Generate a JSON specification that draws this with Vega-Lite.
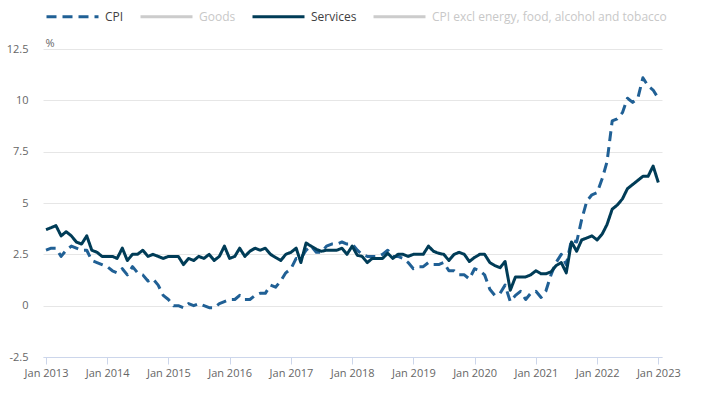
{
  "$schema": "https://vega.github.io/schema/vega-lite/v6.json",
  "width": 619,
  "height": 308,
  "autosize": "none",
  "padding": {"left": 43, "top": 49, "right": 55, "bottom": 39},
  "background": "white",
  "config": {
    "view": {"stroke": null},
    "font": "Open Sans"
  },
  "data": {
    "values": [
      {"date": "2013-01-01", "CPI": 2.7, "Services": 3.7},
      {"date": "2013-02-01", "CPI": 2.8, "Services": 3.8},
      {"date": "2013-03-01", "CPI": 2.8, "Services": 3.9},
      {"date": "2013-04-01", "CPI": 2.4, "Services": 3.4},
      {"date": "2013-05-01", "CPI": 2.7, "Services": 3.6},
      {"date": "2013-06-01", "CPI": 2.9, "Services": 3.4},
      {"date": "2013-07-01", "CPI": 2.8, "Services": 3.1},
      {"date": "2013-08-01", "CPI": 2.7, "Services": 3.0},
      {"date": "2013-09-01", "CPI": 2.7, "Services": 3.4},
      {"date": "2013-10-01", "CPI": 2.2, "Services": 2.7},
      {"date": "2013-11-01", "CPI": 2.1, "Services": 2.6},
      {"date": "2013-12-01", "CPI": 2.0, "Services": 2.4},
      {"date": "2014-01-01", "CPI": 1.9, "Services": 2.4},
      {"date": "2014-02-01", "CPI": 1.7, "Services": 2.4},
      {"date": "2014-03-01", "CPI": 1.6, "Services": 2.3},
      {"date": "2014-04-01", "CPI": 1.8, "Services": 2.8},
      {"date": "2014-05-01", "CPI": 1.5, "Services": 2.2},
      {"date": "2014-06-01", "CPI": 1.9, "Services": 2.5},
      {"date": "2014-07-01", "CPI": 1.6, "Services": 2.5},
      {"date": "2014-08-01", "CPI": 1.5, "Services": 2.7},
      {"date": "2014-09-01", "CPI": 1.2, "Services": 2.4},
      {"date": "2014-10-01", "CPI": 1.3, "Services": 2.5},
      {"date": "2014-11-01", "CPI": 1.0, "Services": 2.4},
      {"date": "2014-12-01", "CPI": 0.5, "Services": 2.3},
      {"date": "2015-01-01", "CPI": 0.3, "Services": 2.4},
      {"date": "2015-02-01", "CPI": 0.0, "Services": 2.4},
      {"date": "2015-03-01", "CPI": 0.0, "Services": 2.4},
      {"date": "2015-04-01", "CPI": -0.1, "Services": 2.0},
      {"date": "2015-05-01", "CPI": 0.1, "Services": 2.3},
      {"date": "2015-06-01", "CPI": 0.0, "Services": 2.2},
      {"date": "2015-07-01", "CPI": 0.1, "Services": 2.4},
      {"date": "2015-08-01", "CPI": 0.0, "Services": 2.3},
      {"date": "2015-09-01", "CPI": -0.1, "Services": 2.5},
      {"date": "2015-10-01", "CPI": -0.1, "Services": 2.2},
      {"date": "2015-11-01", "CPI": 0.1, "Services": 2.4},
      {"date": "2015-12-01", "CPI": 0.2, "Services": 2.9},
      {"date": "2016-01-01", "CPI": 0.3, "Services": 2.3},
      {"date": "2016-02-01", "CPI": 0.3, "Services": 2.4},
      {"date": "2016-03-01", "CPI": 0.5, "Services": 2.8},
      {"date": "2016-04-01", "CPI": 0.3, "Services": 2.4},
      {"date": "2016-05-01", "CPI": 0.3, "Services": 2.65},
      {"date": "2016-06-01", "CPI": 0.5, "Services": 2.8},
      {"date": "2016-07-01", "CPI": 0.6, "Services": 2.7},
      {"date": "2016-08-01", "CPI": 0.6, "Services": 2.8},
      {"date": "2016-09-01", "CPI": 1.0, "Services": 2.5},
      {"date": "2016-10-01", "CPI": 0.9, "Services": 2.35},
      {"date": "2016-11-01", "CPI": 1.2, "Services": 2.2},
      {"date": "2016-12-01", "CPI": 1.6, "Services": 2.5},
      {"date": "2017-01-01", "CPI": 1.8, "Services": 2.6},
      {"date": "2017-02-01", "CPI": 2.3, "Services": 2.8},
      {"date": "2017-03-01", "CPI": 2.3, "Services": 2.1},
      {"date": "2017-04-01", "CPI": 2.7, "Services": 3.05},
      {"date": "2017-05-01", "CPI": 2.9, "Services": 2.9},
      {"date": "2017-06-01", "CPI": 2.6, "Services": 2.75},
      {"date": "2017-07-01", "CPI": 2.6, "Services": 2.65},
      {"date": "2017-08-01", "CPI": 2.9, "Services": 2.7},
      {"date": "2017-09-01", "CPI": 3.0, "Services": 2.7},
      {"date": "2017-10-01", "CPI": 3.0, "Services": 2.7},
      {"date": "2017-11-01", "CPI": 3.1, "Services": 2.8},
      {"date": "2017-12-01", "CPI": 3.0, "Services": 2.5},
      {"date": "2018-01-01", "CPI": 3.0, "Services": 2.9},
      {"date": "2018-02-01", "CPI": 2.7, "Services": 2.45},
      {"date": "2018-03-01", "CPI": 2.5, "Services": 2.4},
      {"date": "2018-04-01", "CPI": 2.4, "Services": 2.1},
      {"date": "2018-05-01", "CPI": 2.4, "Services": 2.3},
      {"date": "2018-06-01", "CPI": 2.4, "Services": 2.3},
      {"date": "2018-07-01", "CPI": 2.5, "Services": 2.3},
      {"date": "2018-08-01", "CPI": 2.7, "Services": 2.55},
      {"date": "2018-09-01", "CPI": 2.4, "Services": 2.3},
      {"date": "2018-10-01", "CPI": 2.4, "Services": 2.5},
      {"date": "2018-11-01", "CPI": 2.3, "Services": 2.5},
      {"date": "2018-12-01", "CPI": 2.1, "Services": 2.4},
      {"date": "2019-01-01", "CPI": 1.8, "Services": 2.5},
      {"date": "2019-02-01", "CPI": 1.9, "Services": 2.5},
      {"date": "2019-03-01", "CPI": 1.9, "Services": 2.5},
      {"date": "2019-04-01", "CPI": 2.1, "Services": 2.9},
      {"date": "2019-05-01", "CPI": 2.0, "Services": 2.65},
      {"date": "2019-06-01", "CPI": 2.0, "Services": 2.55},
      {"date": "2019-07-01", "CPI": 2.1, "Services": 2.5},
      {"date": "2019-08-01", "CPI": 1.7, "Services": 2.2},
      {"date": "2019-09-01", "CPI": 1.7, "Services": 2.5},
      {"date": "2019-10-01", "CPI": 1.5, "Services": 2.6},
      {"date": "2019-11-01", "CPI": 1.5, "Services": 2.5},
      {"date": "2019-12-01", "CPI": 1.3, "Services": 2.15},
      {"date": "2020-01-01", "CPI": 1.8, "Services": 2.35},
      {"date": "2020-02-01", "CPI": 1.7, "Services": 2.5},
      {"date": "2020-03-01", "CPI": 1.5, "Services": 2.5},
      {"date": "2020-04-01", "CPI": 0.8, "Services": 2.1},
      {"date": "2020-05-01", "CPI": 0.5, "Services": 1.95},
      {"date": "2020-06-01", "CPI": 0.6, "Services": 1.85},
      {"date": "2020-07-01", "CPI": 1.0, "Services": 2.15},
      {"date": "2020-08-01", "CPI": 0.2, "Services": 0.75},
      {"date": "2020-09-01", "CPI": 0.5, "Services": 1.4},
      {"date": "2020-10-01", "CPI": 0.7, "Services": 1.4},
      {"date": "2020-11-01", "CPI": 0.3, "Services": 1.4},
      {"date": "2020-12-01", "CPI": 0.6, "Services": 1.5},
      {"date": "2021-01-01", "CPI": 0.7, "Services": 1.7},
      {"date": "2021-02-01", "CPI": 0.4, "Services": 1.55},
      {"date": "2021-03-01", "CPI": 0.7, "Services": 1.55},
      {"date": "2021-04-01", "CPI": 1.5, "Services": 1.65},
      {"date": "2021-05-01", "CPI": 2.1, "Services": 1.95},
      {"date": "2021-06-01", "CPI": 2.5, "Services": 2.1},
      {"date": "2021-07-01", "CPI": 2.0, "Services": 1.6},
      {"date": "2021-08-01", "CPI": 3.2, "Services": 3.1},
      {"date": "2021-09-01", "CPI": 3.1, "Services": 2.65},
      {"date": "2021-10-01", "CPI": 4.2, "Services": 3.2},
      {"date": "2021-11-01", "CPI": 5.1, "Services": 3.3},
      {"date": "2021-12-01", "CPI": 5.4, "Services": 3.4},
      {"date": "2022-01-01", "CPI": 5.5, "Services": 3.2},
      {"date": "2022-02-01", "CPI": 6.2, "Services": 3.5},
      {"date": "2022-03-01", "CPI": 7.0, "Services": 3.95},
      {"date": "2022-04-01", "CPI": 9.0, "Services": 4.7},
      {"date": "2022-05-01", "CPI": 9.1, "Services": 4.9},
      {"date": "2022-06-01", "CPI": 9.4, "Services": 5.2},
      {"date": "2022-07-01", "CPI": 10.1, "Services": 5.7},
      {"date": "2022-08-01", "CPI": 9.9, "Services": 5.9},
      {"date": "2022-09-01", "CPI": 10.1, "Services": 6.1},
      {"date": "2022-10-01", "CPI": 11.1, "Services": 6.3},
      {"date": "2022-11-01", "CPI": 10.7, "Services": 6.3},
      {"date": "2022-12-01", "CPI": 10.5, "Services": 6.8},
      {"date": "2023-01-01", "CPI": 10.1, "Services": 6.0}
    ]
  },
  "transform": [
    {"fold": ["CPI", "Services"], "as": ["series", "value"]}
  ],
  "mark": {"type": "line", "strokeWidth": 3, "strokeJoin": "round", "strokeCap": "butt"},
  "encoding": {
    "x": {
      "field": "date",
      "type": "temporal",
      "scale": {
        "type": "utc",
        "domain": [
          {"year": 2012, "month": 12, "date": 14, "utc": true},
          {"year": 2023, "month": 1, "date": 23, "utc": true}
        ]
      },
      "axis": {
        "title": null,
        "format": "%b %Y",
        "values": [
          {"year": 2013, "month": 1, "date": 1, "utc": true},
          {"year": 2014, "month": 1, "date": 1, "utc": true},
          {"year": 2015, "month": 1, "date": 1, "utc": true},
          {"year": 2016, "month": 1, "date": 1, "utc": true},
          {"year": 2017, "month": 1, "date": 1, "utc": true},
          {"year": 2018, "month": 1, "date": 1, "utc": true},
          {"year": 2019, "month": 1, "date": 1, "utc": true},
          {"year": 2020, "month": 1, "date": 1, "utc": true},
          {"year": 2021, "month": 1, "date": 1, "utc": true},
          {"year": 2022, "month": 1, "date": 1, "utc": true},
          {"year": 2023, "month": 1, "date": 1, "utc": true}
        ],
        "grid": false,
        "domainColor": "#ccd6eb",
        "tickColor": "#ccd6eb",
        "tickSize": 7,
        "labelPadding": 3,
        "labelFont": "Open Sans",
        "labelFontSize": 11,
        "labelColor": "#666666",
        "labelOverlap": false,
        "labelFlush": false
      }
    },
    "y": {
      "field": "value",
      "type": "quantitative",
      "scale": {"domain": [-2.5, 12.5], "nice": false, "zero": false},
      "axis": {
        "values": [-2.5, 0, 2.5, 5, 7.5, 10, 12.5],
        "labelExpr": "'' + datum.value",
        "domain": false,
        "ticks": false,
        "grid": true,
        "gridColor": "#e6e6e6",
        "gridWidth": 1,
        "labelPadding": 15,
        "labelFont": "Open Sans",
        "labelFontSize": 11,
        "labelColor": "#666666",
        "title": "%",
        "titleAngle": 0,
        "titleAlign": "left",
        "titleBaseline": "middle",
        "titleX": 2,
        "titleY": -6,
        "titleFont": "Open Sans",
        "titleFontSize": 11,
        "titleFontWeight": "normal",
        "titleColor": "#666666"
      }
    },
    "color": {
      "field": "series",
      "type": "nominal",
      "scale": {
        "domain": ["CPI", "Goods", "Services", "CPI excl energy, food, alcohol and tobacco"],
        "range": ["#206095", "#cccccc", "#003c57", "#cccccc"]
      },
      "legend": {
        "title": null,
        "orient": "none",
        "legendX": 2,
        "legendY": -60,
        "direction": "horizontal",
        "symbolType": "stroke",
        "symbolSize": 2704,
        "symbolStrokeWidth": 3,
        "labelFont": "Open Sans",
        "labelFontSize": 12,
        "labelColor": {"expr": "datum.value === 'Goods' || datum.value === 'CPI excl energy, food, alcohol and tobacco' ? '#c8c8c8' : '#414042'"},
        "labelOffset": 5,
        "labelLimit": 400,
        "columnPadding": 10
      }
    },
    "strokeDash": {
      "field": "series",
      "type": "nominal",
      "scale": {
        "domain": ["CPI", "Goods", "Services", "CPI excl energy, food, alcohol and tobacco"],
        "range": [[10, 6], [1, 0], [1, 0], [1, 0]]
      },
      "legend": {
        "title": null,
        "orient": "none",
        "legendX": 2,
        "legendY": -60,
        "direction": "horizontal",
        "symbolType": "stroke",
        "symbolSize": 2704,
        "symbolStrokeWidth": 3,
        "labelFont": "Open Sans",
        "labelFontSize": 12,
        "labelColor": {"expr": "datum.value === 'Goods' || datum.value === 'CPI excl energy, food, alcohol and tobacco' ? '#c8c8c8' : '#414042'"},
        "labelOffset": 5,
        "labelLimit": 400,
        "columnPadding": 10
      }
    }
  }
}
